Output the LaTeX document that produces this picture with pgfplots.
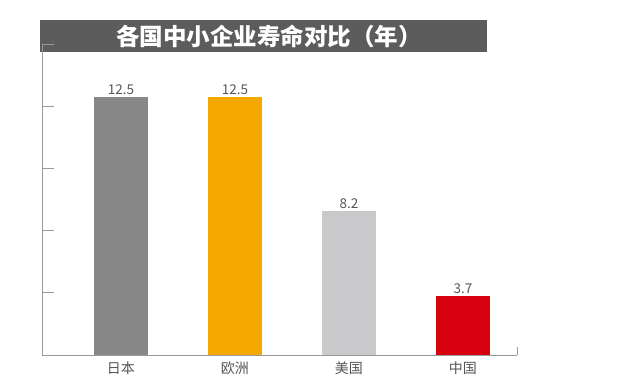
\documentclass[border=0pt]{standalone}
\usepackage{fontspec}
\setmainfont{Noto Sans CJK SC}
\usepackage{pgfplots}
\pgfplotsset{compat=1.18}
\definecolor{titlegray}{HTML}{5C5C5C}
\definecolor{axgray}{HTML}{9A9A9A}
\definecolor{labelgray}{HTML}{555555}
\definecolor{cjp}{HTML}{878787}
\definecolor{ceu}{HTML}{F5A900}
\definecolor{cus}{HTML}{C9C9CB}
\definecolor{ccn}{HTML}{D7000F}
\begin{document}
\begin{tikzpicture}[x=1pt,y=1pt]
\path (0,0) rectangle (619,391);
\fill[titlegray] (40,339) rectangle (487,371);
\node[inner sep=0pt, text=white, font=\fontsize{23.5}{25}\selectfont\bfseries] at (269,355) {各国中小企业寿命对比（年）};
\begin{axis}[
  at={(42pt,36pt)}, anchor=south west,
  scale only axis, width=475pt, height=311pt,
  xmin=-0.693, xmax=3.474, ymin=0, ymax=15,
  axis x line=bottom, axis y line=left,
  axis line style={draw=axgray, -, line width=0.8pt},
  ytick={3,6,9,12,15}, yticklabels={},
  ytick style={draw=axgray, line width=0.8pt},
  major tick length=12pt, tick align=inside,
  xtick={0,1,2,3}, xticklabels={日本,欧洲,美国,中国},
  xtick style={draw=none},
  xticklabel style={font=\fontsize{14}{16}\selectfont, text=labelgray, yshift=-3pt},
  bar width=54pt,
  nodes near coords, point meta=explicit symbolic,
  nodes near coords style={font=\fontsize{13.5}{15}\selectfont, text=labelgray, yshift=-1pt},
  clip=false,
]
\addplot[ybar, fill=cjp, draw=none, bar shift=0pt] coordinates {(0,12.44) [12.5]};
\addplot[ybar, fill=ceu, draw=none, bar shift=0pt] coordinates {(1,12.44) [12.5]};
\addplot[ybar, fill=cus, draw=none, bar shift=0pt] coordinates {(2,6.95) [8.2]};
\addplot[ybar, fill=ccn, draw=none, bar shift=0pt] coordinates {(3,2.85) [3.7]};
\end{axis}
\draw[axgray, line width=0.8pt] (517,36) -- (517,44);
\end{tikzpicture}
\end{document}
